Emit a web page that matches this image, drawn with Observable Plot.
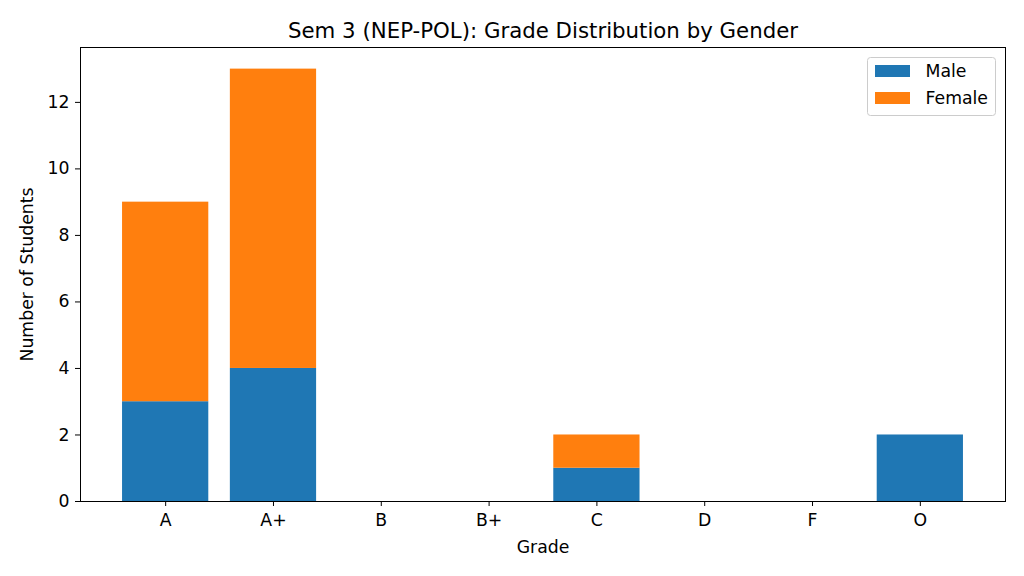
<!DOCTYPE html>
<html>
<head>
<meta charset="utf-8">
<script src="https://cdn.jsdelivr.net/npm/d3@7"></script>
<script src="https://cdn.jsdelivr.net/npm/@observablehq/plot@0.6"></script>
<style>
  html, body { margin: 0; padding: 0; background: #fff; }
  #chart { width: 1024px; height: 576px; }
  svg { font-family: "DejaVu Sans", sans-serif; }
</style>
</head>
<body>
<div id="chart"></div>
<script>
const grades = ["A", "A+", "B", "B+", "C", "D", "F", "O"];
const male =   [3, 4, 0, 0, 1, 0, 0, 2];
const female = [6, 9, 0, 0, 1, 0, 0, 0];
const genders = ["Male", "Female"];
const colors = ["#1f77b4", "#ff7f0e"];
const yTicks = [0, 2, 4, 6, 8, 10, 12];
const titleText = "Sem 3 (NEP-POL): Grade Distribution by Gender";

const rows = [];
grades.forEach((g, i) => rows.push({grade: g, gender: "Male", count: male[i]}));
grades.forEach((g, i) => rows.push({grade: g, gender: "Female", count: female[i]}));

const ml = 80, mr = 19, mt = 47, mb = 75;
const fs = 17.3;

const chart = Plot.plot({
  width: 1024,
  height: 576,
  marginLeft: ml,
  marginRight: mr,
  marginTop: mt,
  marginBottom: mb,
  style: {fontFamily: "DejaVu Sans, sans-serif", fontSize: fs + "px", color: "black", background: "white"},
  x: {domain: grades, paddingInner: 0.2, paddingOuter: 0.39, round: false, label: null},
  y: {domain: [0, 13.65], label: null},
  color: {domain: genders, range: colors},
  marks: [
    Plot.barY(rows, {x: "grade", y: "count", fill: "gender", order: genders}),
    Plot.frame({stroke: "black", strokeWidth: 1}),
    Plot.axisX({tickSize: 5, tickPadding: 7, fontSize: fs, label: null, stroke: "black", fill: "black"}),
    Plot.axisY({ticks: yTicks, tickSize: 5, tickPadding: 6, fontSize: fs, label: null, stroke: "black", fill: "black"}),
    Plot.text([titleText], {frameAnchor: "top", lineAnchor: "middle", textAnchor: "middle", dy: -16, fontSize: 21.3, fill: "black"}),
    Plot.text(["Grade"], {frameAnchor: "bottom", lineAnchor: "middle", textAnchor: "middle", dy: 46, fontSize: fs, fill: "black"}),
    Plot.text(["Number of Students"], {frameAnchor: "left", lineAnchor: "middle", textAnchor: "middle", dx: -53, rotate: -90, fontSize: fs, fill: "black"})
  ]
});

document.getElementById("chart").appendChild(chart);

// Legend (matplotlib style, upper right)
const svg = d3.select(chart);
const lg = svg.append("g").attr("transform", "translate(867.5,57.5)");
lg.append("rect").attr("x", 0).attr("y", 0).attr("width", 128).attr("height", 58)
  .attr("rx", 3).attr("fill", "white").attr("fill-opacity", 0.8).attr("stroke", "#cccccc");
genders.forEach((g, i) => {
  lg.append("rect").attr("x", 7.5).attr("y", 7.5 + i * 27).attr("width", 35).attr("height", 12).attr("fill", colors[i]);
  lg.append("text").attr("x", 58).attr("y", 13.5 + i * 27).attr("dy", "0.35em")
    .attr("text-anchor", "start")
    .attr("font-size", fs).attr("fill", "black").text(g);
});
</script>
</body>
</html>
